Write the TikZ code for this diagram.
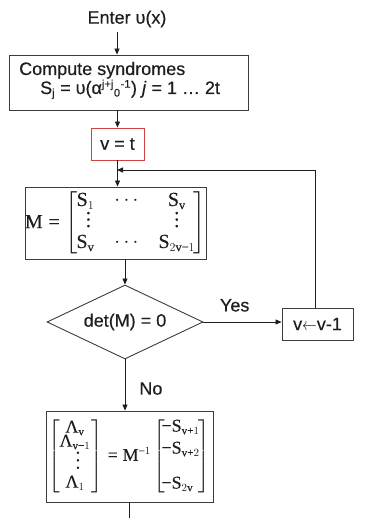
\documentclass[tikz,border=0pt]{standalone}
\usepackage{amsmath}
\usepackage{graphicx}
\usepackage{fontspec}
\setmainfont{Liberation Serif}[FakeBold=0.25]
\setsansfont{Liberation Sans}[FakeBold=0.4]
\usetikzlibrary{shapes.geometric,arrows.meta}
\renewcommand\defaultscriptratio{.62}
\definecolor{ink}{RGB}{30,30,30}
\definecolor{frame}{RGB}{60,60,60}
\definecolor{alert}{RGB}{205,70,70}
\newcommand{\rmv}{\mathrm{v}}
\newcommand{\rmS}{\mathrm{S}}
\newcommand{\tLambda}{\mathord{\text{Λ}}}
% serif operators taken from the text font
\newcommand{\tminus}{\mathbin{\text{−}}}
\newcommand{\tplus}{\mathbin{\text{+}}}
\newcommand{\teq}{\mathrel{\text{=}}}
% brackets set close to their contents
\newcommand{\lbrk}{\left[\mkern-4mu}
\newcommand{\rbrk}{\mkern-4mu\right]}
% vertical dots that take no room in their row: #1 = drop, #2 = dot pitch
\newcommand{\colvdots}[2]{\smash{\lower#1\vbox{\baselineskip#2\lineskiplimit0pt\hbox{.}\hbox{.}\hbox{.}}}}
\newcommand{\rowdots}{\mathord{\cdotp\cdotp\cdotp}}
\begin{document}
\begin{tikzpicture}[x=1pt,y=-1pt,
  every node/.style={font=\sffamily\fontsize{18}{21}\selectfont, text=ink, inner sep=2pt},
  block/.style={draw=frame, line width=0.9pt, inner sep=0pt},
  flow/.style={draw=ink, line width=0.8pt, -{Triangle[length=6pt,width=5pt]}},
  link/.style={draw=ink, line width=0.8pt},
  mathbig/.style={font=\rmfamily\fontsize{20}{20}\selectfont},
  mathmid/.style={font=\rmfamily\fontsize{18}{18}\selectfont}]
\useasboundingbox (0,0) rectangle (385,518);

% entry and syndrome computation
\node (enter) at (127,19) {Enter υ(x)};
\coordinate (in) at (117,32);
\node[block, minimum width=239pt, minimum height=55pt] (syn) at (128.5,82.5) {};
\node[anchor=base west] (syn1) at (17,75) {Compute syndromes};
\node[anchor=base west] (syn2) at (38,94)
  {S$_\text{j}$ = υ(α${}^{\text{j+j}}{}_{\text{0}}{}^{\text{-1}}$) \textit{j} = 1 … 2t};

% initial number of errors
\node[block, draw=alert, minimum width=53pt, minimum height=32pt] (init) at (117.5,144) {v = t};
\coordinate (join) at (117,170);
\coordinate (back) at (315,170);

% syndrome matrix
\node[block, mathbig, minimum width=175pt, minimum height=72pt] (mat) at (115.5,223)
  {$\mathrm{M} \teq \lbrk\begin{array}{@{\,}c@{\hspace{20pt}}c@{\hspace{20pt}}c@{\,}}
     \rmS_1 & \rowdots & \rmS_\rmv\\[1pt]
     \hspace{6pt}\colvdots{0pt}{6.5pt} & & \colvdots{0pt}{6.5pt}\\[1pt]
     \rmS_\rmv & \rowdots & \rmS_{2\rmv\tminus1}
   \end{array}\rbrk$};

% singularity test
\node[block, diamond, shape aspect=2.1, minimum width=156pt, minimum height=74pt] (test) at (125,322) {det(M) = 0};
\node[block, minimum width=71pt, minimum height=32pt] (dec) at (317.5,324)
  {v\scalebox{0.85}[1]{$\mathord{\leftarrow}$}v-1};

% error locator coefficients
\node[block, mathmid, minimum width=167pt, minimum height=91pt] (solve) at (129.5,456.5)
  {$\lbrk\begin{array}{@{\,}c@{\;}}
     \tLambda_\rmv\\[-4pt] \tLambda_{\rmv\tminus1}\\[2pt] \hspace{6pt}\colvdots{2pt}{7.5pt}\\[3pt] \tLambda_1
   \end{array}\rbrk \teq \mathrm{M}^{\tminus1}
   \lbrk\begin{array}{@{}l@{\,}}
     \tminus\rmS_{\rmv\tplus1}\\[4pt] \tminus\rmS_{\rmv\tplus2}\\[-1pt] \\ \tminus\rmS_{2\rmv}
   \end{array}\rbrk$};
\coordinate (out) at (129,518);

% connectors
\draw[flow] (in) -- (in |- syn.north);
\draw[flow] (syn.south -| init.north) -- (init.north);
\draw[flow] (init.south) -- (init.south |- mat.north);
\draw[flow] (test.north |- mat.south) -- (test.north);
\draw[flow] (test.east) -- node[pos=0.4, above=8pt] (yes) {Yes} (test.east -| dec.west);
\draw[link] (back |- dec.north) -- (back);
\draw[flow] (back) -- (join);
\draw[flow] (test.south) -- node[pos=0.57, right=12pt] (no) {No} (test.south |- solve.north);
\draw[link] (solve.south -| out) -- (out);
\end{tikzpicture}
\end{document}
